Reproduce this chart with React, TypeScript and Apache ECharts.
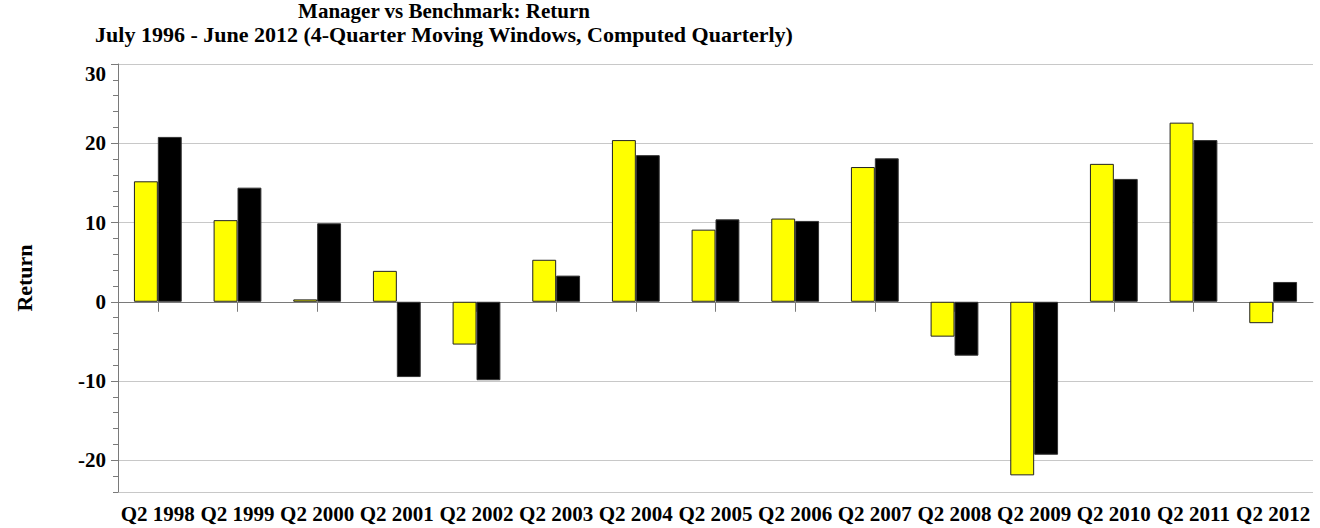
import React, { useEffect, useRef } from "react";
import * as echarts from "echarts";

const categories = [
  "Q2 1998", "Q2 1999", "Q2 2000", "Q2 2001", "Q2 2002", "Q2 2003", "Q2 2004", "Q2 2005",
  "Q2 2006", "Q2 2007", "Q2 2008", "Q2 2009", "Q2 2010", "Q2 2011", "Q2 2012",
];
const managerReturns = [15.2, 10.3, 0.3, 3.9, -5.4, 5.3, 20.4, 9.1, 10.5, 17.0, -4.4, -21.9, 17.4, 22.6, -2.7];
const benchmarkReturns = [20.8, 14.4, 9.9, -9.5, -9.9, 3.3, 18.5, 10.4, 10.2, 18.1, -6.8, -19.3, 15.5, 20.4, 2.5];
const titleLine1 = "Manager vs Benchmark: Return";
const titleLine2 = "July 1996 - June 2012 (4-Quarter Moving Windows, Computed Quarterly)";
const yAxisName = "Return";

const FONT = "'Liberation Serif', 'Times New Roman', serif";
const AXIS_COLOR = "#7a7a7a";

export default function App() {
  const ref = useRef<HTMLDivElement>(null);
  useEffect(() => {
    if (!ref.current) return;
    const chart = echarts.init(ref.current, null, { renderer: "svg" });
    chart.setOption({
      animation: false,
      backgroundColor: "#ffffff",
      textStyle: { fontFamily: FONT },
      graphic: [
        {
          type: "text",
          x: 444,
          y: 0,
          style: {
            text: titleLine1,
            font: `bold 21px ${FONT}`,
            fill: "#000",
            textAlign: "center",
            textVerticalAlign: "top",
          },
        },
        {
          type: "text",
          x: 444,
          y: 23,
          style: {
            text: titleLine2,
            font: `bold 22px ${FONT}`,
            fill: "#000",
            textAlign: "center",
            textVerticalAlign: "top",
          },
        },
      ],
      grid: { left: 118, right: 7, top: 64, bottom: 36, containLabel: false },
      xAxis: {
        type: "category",
        data: categories,
        axisLine: { show: true, lineStyle: { color: AXIS_COLOR, width: 1 } },
        axisTick: { show: true, alignWithLabel: true, length: 10, lineStyle: { color: AXIS_COLOR } },
        axisLabel: {
          margin: 11,
          color: "#000",
          fontFamily: FONT,
          fontWeight: "bold",
          fontSize: 21,
          interval: 0,
        },
        splitLine: { show: false },
      },
      yAxis: [
        {
          type: "value",
          min: -24,
          max: 30,
          splitNumber: 5,
          name: yAxisName,
          nameLocation: "middle",
          nameGap: 83,
          nameRotate: 90,
          nameTextStyle: { color: "#000", fontFamily: FONT, fontWeight: "bold", fontSize: 22 },
          axisLine: { show: true, lineStyle: { color: AXIS_COLOR, width: 1 } },
          axisTick: { show: true, length: 7, lineStyle: { color: AXIS_COLOR } },
          axisLabel: {
            showMinLabel: false,
            margin: 12,
            color: "#000",
            fontFamily: FONT,
            fontWeight: "bold",
            fontSize: 21,
            formatter: (v: number) => (v === 30 ? "{t|30}" : String(v)),
            rich: {
              t: {
                padding: [20, 0, 0, 0],
                color: "#000",
                fontFamily: FONT,
                fontWeight: "bold",
                fontSize: 21,
              },
            },
          },
          splitLine: { show: true, lineStyle: { color: "#c8c8c8", width: 1 } },
        },
        {
          type: "value",
          min: -24,
          max: 30,
          interval: 2,
          position: "left",
          axisLine: { show: false },
          axisTick: { show: true, length: 5, lineStyle: { color: AXIS_COLOR } },
          axisLabel: { show: false },
          splitLine: { show: false },
        },
      ],
      series: [
        {
          name: "Manager",
          type: "bar",
          data: managerReturns,
          yAxisIndex: 0,
          barGap: "0%",
          barCategoryGap: "40%",
          itemStyle: { color: "#ffff00", borderColor: "#222", borderWidth: 1 },
        },
        {
          name: "Benchmark",
          type: "bar",
          data: benchmarkReturns,
          yAxisIndex: 0,
          barGap: "0%",
          barCategoryGap: "40%",
          itemStyle: { color: "#000000", borderColor: "#333", borderWidth: 1 },
        },
      ],
    });
    return () => chart.dispose();
  }, []);
  return (
    <div
      ref={ref}
      style={{ position: "absolute", left: 0, top: 0, width: 1320, height: 528 }}
    />
  );
}
